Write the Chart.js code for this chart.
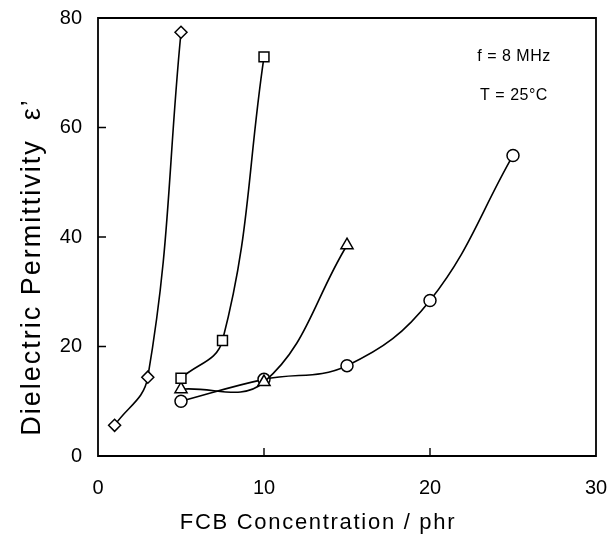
<!DOCTYPE html>
<html>
<head>
<meta charset="utf-8">
<script src="https://cdn.jsdelivr.net/npm/chart.js@4/dist/chart.umd.min.js"></script>
<style>
html,body{margin:0;padding:0;background:#fff;}
#wrap{width:608px;height:540px;position:relative;}
</style>
</head>
<body>
<div id="wrap"><canvas id="c" width="608" height="540"></canvas></div>
<script>
// Data
const diamondX = [1, 3, 5];
const diamondY = [5.6, 14.4, 77.4];
const squareX = [5, 7.5, 10];
const squareY = [14.2, 21.1, 72.9];
const triangleX = [5, 10, 15];
const triangleY = [12.2, 13.5, 38.5];
const circleX = [5, 10, 15, 20, 25];
const circleY = [10.0, 14.0, 16.5, 28.4, 54.9];
const xTicks = [0, 10, 20, 30];
const yTicks = [0, 20, 40, 60, 80];
const xTitle = 'FCB Concentration / phr';
const yTitle = "Dielectric Permittivity  ε’";
const notes = ['f = 8 MHz', 'T = 25°C'];

const FONT = "'Liberation Sans', Arial, sans-serif";

function pts(xs, ys) { return xs.map((x, i) => ({ x: x, y: ys[i] })); }

function ds(label, xs, ys, style, radius) {
  return {
    label: label,
    data: pts(xs, ys),
    borderColor: '#000',
    borderWidth: 1.6,
    backgroundColor: '#fff',
    pointStyle: style,
    pointRadius: radius,
    pointBorderWidth: 1.5,
    pointBorderColor: '#000',
    pointBackgroundColor: '#fff',
    tension: 0.4,
    fill: false
  };
}

const framePlugin = {
  id: 'frame',
  afterDatasetsDraw(chart) {
    const { ctx, scales } = chart;
    const L = scales.x.getPixelForValue(xTicks[0]);
    const R = scales.x.getPixelForValue(xTicks[xTicks.length - 1]);
    const T = scales.y.getPixelForValue(yTicks[yTicks.length - 1]);
    const B = scales.y.getPixelForValue(yTicks[0]);
    ctx.save();
    ctx.strokeStyle = '#000';
    ctx.lineWidth = 1.8;
    ctx.beginPath();
    ctx.moveTo(L, T); ctx.lineTo(R, T); ctx.lineTo(R, B); ctx.lineTo(L, B); ctx.closePath();
    ctx.stroke();
    ctx.lineWidth = 1.4;
    ctx.beginPath();
    yTicks.slice(1, -1).forEach(v => {
      const p = scales.y.getPixelForValue(v);
      ctx.moveTo(L, p); ctx.lineTo(L + 8, p);
    });
    xTicks.slice(1, -1).forEach(v => {
      const p = scales.x.getPixelForValue(v);
      ctx.moveTo(p, B); ctx.lineTo(p, B - 8);
    });
    ctx.stroke();
    ctx.fillStyle = '#000';
    ctx.textAlign = 'center';
    ctx.textBaseline = 'middle';
    ctx.font = '16px ' + FONT;
    ctx.letterSpacing = '0.5px';
    ctx.fillText(notes[0], 514, 57);
    ctx.fillText(notes[1], 514, 96);
    // axis titles
    ctx.font = '22px ' + FONT;
    ctx.letterSpacing = '1.7px';
    ctx.fillText(xTitle, 318, 523);
    ctx.save();
    ctx.translate(33, 267);
    ctx.rotate(-Math.PI / 2);
    ctx.font = '27px ' + FONT;
    ctx.letterSpacing = '2px';
    ctx.fillText(yTitle, 0, 0);
    ctx.restore();
    ctx.restore();
  }
};

new Chart(document.getElementById('c'), {
  type: 'line',
  data: {
    datasets: [
      ds('diamond', diamondX, diamondY, 'rectRot', 6),
      ds('square', squareX, squareY, 'rect', 7),
      ds('triangle', triangleX, triangleY, 'triangle', 7),
      ds('circle', circleX, circleY, 'circle', 6)
    ]
  },
  options: {
    responsive: false,
    animation: false,
    layout: { padding: { top: 18, right: 12, left: 0, bottom: 0 } },
    plugins: { legend: { display: false }, tooltip: { enabled: false } },
    scales: {
      x: {
        type: 'linear', min: 0, max: 30,
        afterFit(s) { s.height = 84; s.paddingLeft = 0; s.paddingRight = 0; },
        afterBuildTicks(s) { s.ticks = xTicks.map(v => ({ value: v })); },
        grid: { display: false, drawTicks: false },
        border: { display: false },
        ticks: { color: '#000', padding: 20, font: { family: FONT, size: 20 } },
        title: { display: false }
      },
      y: {
        type: 'linear', min: 0, max: 80,
        afterFit(s) { s.width = 98; s.paddingTop = 0; s.paddingBottom = 0; },
        afterBuildTicks(s) { s.ticks = yTicks.map(v => ({ value: v })); },
        grid: { display: false, drawTicks: false },
        border: { display: false },
        ticks: { color: '#000', padding: 16, font: { family: FONT, size: 20 } },
        title: { display: false }
      }
    }
  },
  plugins: [framePlugin]
});
</script>
</body>
</html>
